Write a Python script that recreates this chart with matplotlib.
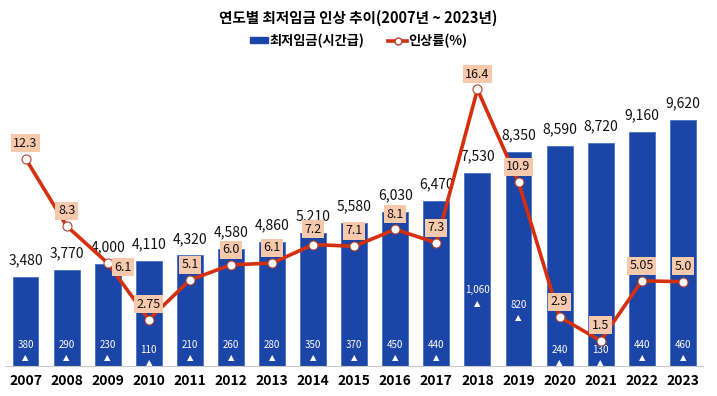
import matplotlib.pyplot as plt
from matplotlib.patches import Patch
from matplotlib.lines import Line2D

plt.rcParams['font.family'] = ['Noto Sans CJK KR', 'DejaVu Sans']

years = ['2007', '2008', '2009', '2010', '2011', '2012', '2013', '2014', '2015',
         '2016', '2017', '2018', '2019', '2020', '2021', '2022', '2023']
wage = [3480, 3770, 4000, 4110, 4320, 4580, 4860, 5210, 5580,
        6030, 6470, 7530, 8350, 8590, 8720, 9160, 9620]
increase = [380, 290, 230, 110, 210, 260, 280, 350, 370,
            450, 440, 1060, 820, 240, 130, 440, 460]
rate = [12.3, 8.3, 6.1, 2.75, 5.1, 6.0, 6.1, 7.2, 7.1,
        8.1, 7.3, 16.4, 10.9, 2.9, 1.5, 5.05, 5.0]
rate_labels = ['12.3', '8.3', '6.1', '2.75', '5.1', '6.0', '6.1', '7.2', '7.1',
               '8.1', '7.3', '16.4', '10.9', '2.9', '1.5', '5.05', '5.0']

bar_color = '#1B45A6'
line_color = '#D4300E'
box_color = '#F7C9AC'

fig = plt.figure(figsize=(7.17, 3.96), dpi=100)
ax = fig.add_axes([0.007, 0.0758, 0.974, 0.775])
x = list(range(len(years)))

ax.bar(x, wage, width=0.63, color=bar_color, edgecolor='#4A70C8', linewidth=0.6, zorder=2)
ax.set_xlim(-0.5, 16.5)
ax.set_ylim(0, 12000)
ax.set_yticks([])
ax.set_xticks(x)
ax.set_xticklabels(years, fontsize=10, fontweight='bold')
ax.tick_params(axis='x', length=0, pad=6)
for s in ['top', 'right', 'left']:
    ax.spines[s].set_visible(False)
ax.spines['bottom'].set_color('#C8C8C8')

# wage labels above bars
for i, w in enumerate(wage):
    ax.annotate(f'{w:,}', (i, w), xytext=(0, 12), textcoords='offset points',
                ha='center', va='center', fontsize=10, color='#111111', zorder=5)

# increase amount inside bars (raised for tall increases)
raised = {11: 2960, 12: 2380}
for i, inc in enumerate(increase):
    yy = raised.get(i, 820)
    if i in (3, 13, 14):
        yy = 640
    ax.text(i, yy, f'{inc:,}', ha='center', va='center', fontsize=7,
            color='white', fontweight='medium', zorder=3)
    ax.text(i, yy - 500, '▲', ha='center', va='center', fontsize=6,
            color='white', family=['DejaVu Sans'], zorder=3)

ax2 = ax.twinx()
ax2.set_ylim(0, 18.2)
ax2.set_yticks([])
for s in ax2.spines.values():
    s.set_visible(False)
ax2.plot(x, rate, color=line_color, linewidth=2.6, marker='o', markersize=6.5,
         markerfacecolor='white', markeredgecolor='#B04030', markeredgewidth=0.8, zorder=4)

offsets = {2: (11, -3)}
for i, (r, lab) in enumerate(zip(rate, rate_labels)):
    dx, dy = offsets.get(i, (0, 11))
    ax2.annotate(lab, (i, r), xytext=(dx, dy), textcoords='offset points',
                 ha='center', va='center', fontsize=9, color='#111111',
                 bbox=dict(boxstyle='square,pad=0.2', facecolor=box_color, edgecolor='none'),
                 zorder=6)

fig.text(0.5, 0.955, '연도별 최저임금 인상 추이(2007년 ~ 2023년)', ha='center', va='center',
         fontsize=10.5, fontweight='bold')

handles = [Patch(facecolor=bar_color, edgecolor=bar_color),
           Line2D([0], [0], color=line_color, linewidth=2.6, marker='o', markersize=5,
                  markerfacecolor='white', markeredgecolor='#B04030')]
fig.legend(handles, ['최저임금(시간급)', '인상률(%)'], loc='center', bbox_to_anchor=(0.5, 0.897),
           ncol=2, frameon=False, handlelength=1.4, handleheight=0.3,
           columnspacing=1.8, handletextpad=0.1, prop={'weight': 'bold', 'size': 9.5})

fig.savefig('out.png', dpi=100)
